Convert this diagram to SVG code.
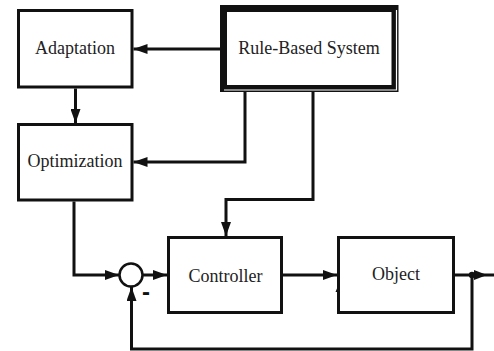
<svg xmlns="http://www.w3.org/2000/svg" width="494" height="351" viewBox="0 0 494 351">
<style>
.box{fill:#fff;stroke:#111;stroke-width:3}
.lbl{font-family:"Liberation Serif","Times New Roman",serif;font-size:18px;fill:#222;text-anchor:middle}
.ln{fill:none;stroke:#111;stroke-width:3;stroke-linejoin:miter}
.ah{fill:#111}
</style>
<defs>
<marker id="arr" viewBox="0 0 14 10" refX="14" refY="5" markerWidth="14" markerHeight="10" markerUnits="userSpaceOnUse" orient="auto">
<path d="M0,0 L14,5 L0,10 Z" class="ah"/>
</marker>
</defs>
<g id="connectors">
<path class="ln" d="M220,49 L133.5,49" marker-end="url(#arr)"/>
<path class="ln" d="M75.5,88.5 L75.5,123" marker-end="url(#arr)"/>
<path class="ln" d="M245,92 L245,162 L133.5,162" marker-end="url(#arr)"/>
<path class="ln" d="M313,92 L313,199.5 L226,199.5 L226,236" marker-end="url(#arr)"/>
<path class="ln" d="M74,201.5 L74,275 L119,275" marker-end="url(#arr)"/>
<path class="ln" d="M143,275 L167,275" marker-end="url(#arr)"/>
<path class="ln" d="M283,275 L337,275" marker-end="url(#arr)"/>
<path class="ln" d="M455,275 L494,275"/>
<path class="ah" d="M474,270 L487,275 L474,280 Z"/>
<circle cx="472" cy="275" r="3.2" class="ah"/>
<path class="ln" d="M472,275 L472,349 L131.5,349 L131.5,287" marker-end="url(#arr)"/>
<path class="ah" d="M340,281 L335.5,292 L344.5,292 Z"/>
</g>
<g id="adaptation">
<rect class="box" x="18.5" y="10.5" width="113.5" height="76.5"/>
<text class="lbl" x="75" y="54">Adaptation</text>
</g>
<g id="rule-based-system">
<rect x="223.5" y="8.5" width="171.5" height="80" fill="#fff" stroke="#111" stroke-width="7"/>
<path d="M224,90 L396.5,90 L396.5,10" fill="none" stroke="#fff" stroke-width="1.2"/>
<text class="lbl" x="309" y="54">Rule-Based System</text>
</g>
<g id="optimization">
<rect class="box" x="18.5" y="124.5" width="113.5" height="75.5"/>
<text class="lbl" x="75" y="167">Optimization</text>
</g>
<g id="sum">
<circle cx="131" cy="275" r="11.5" fill="#fff" stroke="#111" stroke-width="2.5"/>
<text x="146" y="300" font-family="Liberation Sans, Arial, sans-serif" font-size="24" font-weight="bold" fill="#111" text-anchor="middle">-</text>
</g>
<g id="controller">
<rect class="box" x="168.5" y="237.5" width="113" height="75"/>
<text class="lbl" x="225.5" y="282">Controller</text>
</g>
<g id="object">
<rect class="box" x="338.5" y="237.5" width="115" height="75" fill="none"/>
<text class="lbl" x="396" y="280">Object</text>
</g>
</svg>
